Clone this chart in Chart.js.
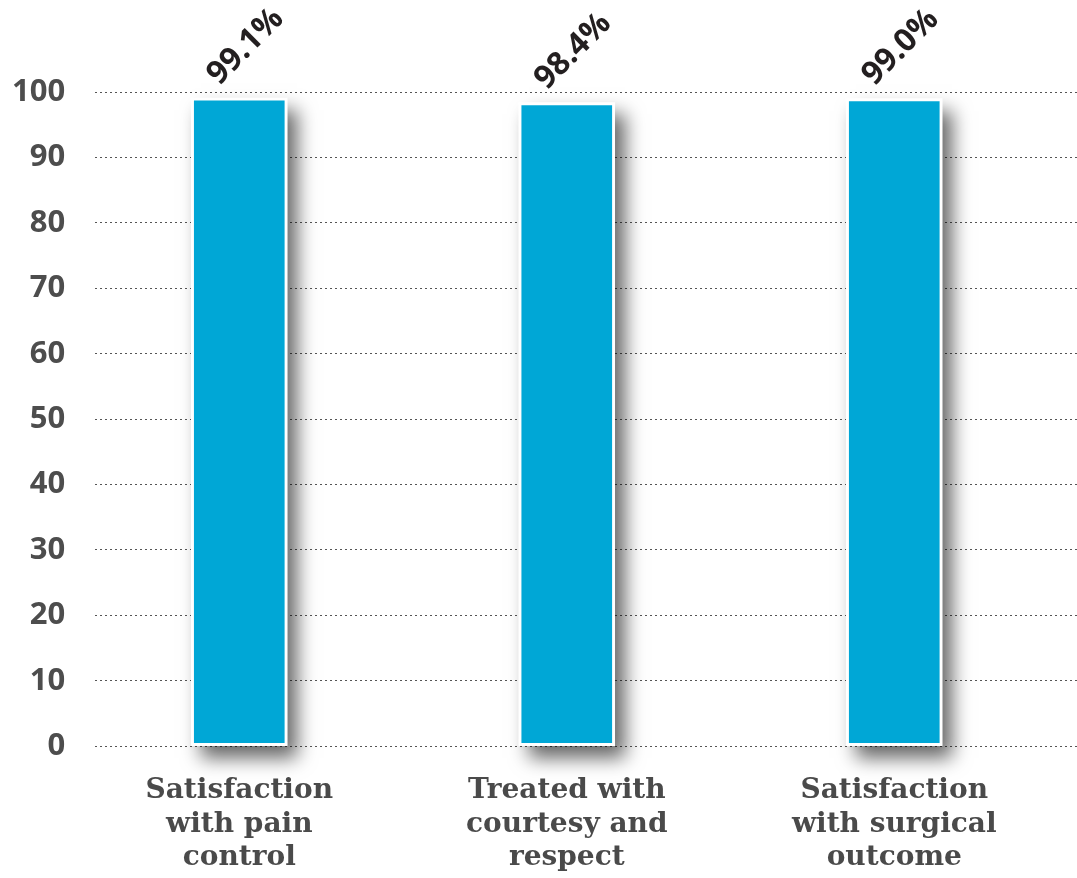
<!DOCTYPE html>
<html>
<head>
<meta charset="utf-8">
<script src="https://cdn.jsdelivr.net/npm/chart.js@4"></script>
<style>
html,body{margin:0;padding:0;background:#fff;}
#wrap{width:1077px;height:878px;position:relative;}
</style>
</head>
<body>
<div id="wrap"><canvas id="c" width="1077" height="878"></canvas></div>
<script>
const categories = [
  ["Satisfaction", "with pain", "control"],
  ["Treated with", "courtesy and", "respect"],
  ["Satisfaction", "with surgical", "outcome"]
];
const values = [99.1, 98.4, 99.0];
const valueLabels = ["99.1%", "98.4%", "99.0%"];
const yTicks = [0, 10, 20, 30, 40, 50, 60, 70, 80, 90, 100];

const shadowPlugin = {
  id: 'barShadow',
  beforeDatasetsDraw(chart) {
    const ctx = chart.ctx;
    const meta = chart.getDatasetMeta(0);
    ctx.save();
    meta.data.forEach(bar => {
      const p = bar.getProps(['x','y','base','width'], true);
      ctx.shadowColor = 'rgba(0,0,0,0.6)';
      ctx.shadowBlur = 18;
      ctx.shadowOffsetX = 10;
      ctx.shadowOffsetY = 12;
      ctx.fillStyle = '#ffffff';
      ctx.fillRect(p.x - p.width/2, p.y, p.width, p.base - p.y);
    });
    ctx.restore();
  },
  afterDatasetsDraw(chart) {
    const ctx = chart.ctx;
    const meta = chart.getDatasetMeta(0);
    ctx.save();
    ctx.fillStyle = '#231f20';
    ctx.font = 'bold 32px "Open Sans", sans-serif';
    ctx.textAlign = 'left';
    ctx.textBaseline = 'alphabetic';
    meta.data.forEach((bar, i) => {
      const p = bar.getProps(['x','y'], true);
      ctx.save();
      ctx.translate(p.x - 20, p.y - 12);
      ctx.rotate(-Math.PI/4);
      ctx.fillText(valueLabels[i], 0, 0);
      ctx.restore();
    });
    ctx.restore();
  }
};

new Chart(document.getElementById('c'), {
  type: 'bar',
  data: {
    datasets: [{
      data: values.map((v, i) => ({x: i, y: v})),
      backgroundColor: '#00a7d6',
      borderColor: '#ffffff',
      borderWidth: 3,
      borderSkipped: false,
      barThickness: 96
    }]
  },
  plugins: [shadowPlugin],
  options: {
    responsive: false,
    animation: false,
    devicePixelRatio: 1,
    layout: { padding: { top: 92, right: 0, left: -18, bottom: -25 } },
    plugins: { legend: { display: false }, tooltip: { enabled: false } },
    scales: {
      x: {
        type: 'linear',
        offset: false,
        min: -0.44,
        max: 2.558,
        afterBuildTicks(scale) { scale.ticks = categories.map((c, i) => ({value: i})); },
        grid: { display: false, drawTicks: false },
        border: { display: false },
        ticks: {
          padding: 28,
          color: '#4a4a4a',
          font: { family: '"DejaVu Serif", serif', weight: 'bold', size: 28, lineHeight: 1.2 },
          callback: (v) => categories[v],
          maxRotation: 0,
          autoSkip: false
        }
      },
      y: {
        min: 0,
        max: 100,
        afterBuildTicks(scale) { scale.ticks = yTicks.map(v => ({value: v})); },
        grid: { color: '#555555', lineWidth: 1, borderDash: [2, 3], drawTicks: false },
        border: { display: false, dash: [2, 3] },
        ticks: {
          padding: 30,
          color: '#4d4d4d',
          font: { family: '"Open Sans", sans-serif', weight: 'bold', size: 31 }
        }
      }
    }
  }
});
</script>
</body>
</html>
